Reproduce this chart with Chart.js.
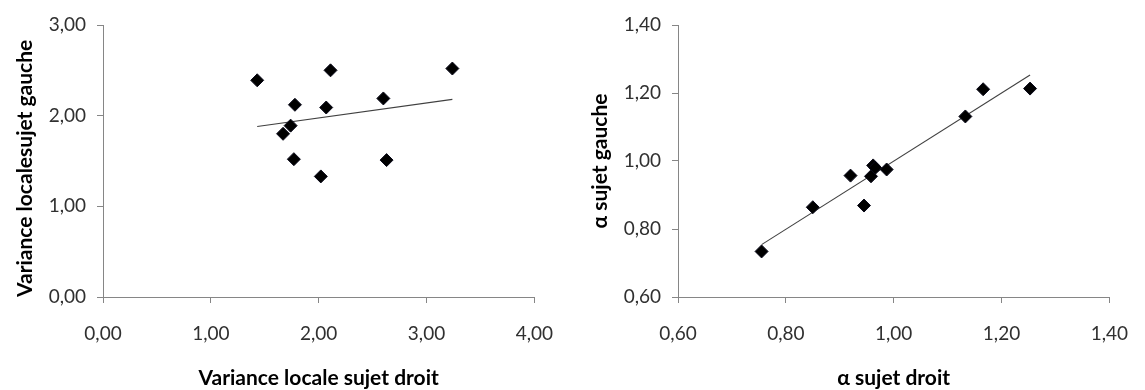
<!DOCTYPE html>
<html>
<head>
<meta charset="utf-8">
<script src="https://cdn.jsdelivr.net/npm/chart.js@4"></script>
<style>
  html, body { margin: 0; padding: 0; background: #fff; width: 1145px; height: 390px; overflow: hidden; }
  canvas { position: absolute; top: 0; }
  #c1 { left: 0px; }
  #c2 { left: 575px; }
</style>
</head>
<body>
<canvas id="c1" width="572" height="390"></canvas>
<canvas id="c2" width="572" height="390"></canvas>
<script>
// ---- Data ----
const leftX = [1.43, 2.11, 3.24, 1.78, 2.07, 2.60, 1.74, 1.67, 1.77, 2.63, 2.02];
const leftY = [2.39, 2.50, 2.52, 2.12, 2.09, 2.19, 1.89, 1.80, 1.52, 1.51, 1.33];
const leftTrendX = [1.43, 3.24];
const leftTrendY = [1.88, 2.18];

const rightX = [0.755, 0.850, 0.920, 0.945, 0.958, 0.962, 0.966, 0.987, 1.133, 1.166, 1.253];
const rightY = [0.734, 0.864, 0.957, 0.869, 0.955, 0.987, 0.980, 0.975, 1.131, 1.211, 1.213];
const rightTrendX = [0.755, 1.253];
const rightTrendY = [0.754, 1.253];

const leftXTicks = ['0,00', '1,00', '2,00', '3,00', '4,00'];
const leftYTicks = ['0,00', '1,00', '2,00', '3,00'];
const rightXTicks = ['0,60', '0,80', '1,00', '1,20', '1,40'];
const rightYTicks = ['0,60', '0,80', '1,00', '1,20', '1,40'];

const leftXTitle = 'Variance locale sujet droit';
const leftYTitle = 'Variance localesujet gauche';
const rightXTitle = 'α sujet droit';
const rightYTitle = 'α sujet gauche';

// ---- Styling ----
const AXIS = '#868686';
const TICKFONT = { family: 'Lato, "Open Sans", sans-serif', size: 19 };
const TITLEFONT = { family: 'Lato, "Open Sans", sans-serif', size: 21, weight: 'bold', lineHeight: 1.0 };

function pts(xs, ys) { return xs.map((x, i) => ({ x: x, y: ys[i] })); }

function makeChart(id, xs, ys, tx, ty, xr, yr, xTicks, yTicks, xTitle, yTitle, yTitleAlign) {
  new Chart(document.getElementById(id), {
    type: 'scatter',
    data: {
      datasets: [
        {
          data: pts(xs, ys),
          pointStyle: 'rectRot',
          pointRadius: 6.5,
          pointBackgroundColor: '#000',
          pointBorderColor: '#0a0a1a',
          pointBorderWidth: 1,
          showLine: false,
          order: 1
        },
        {
          type: 'line',
          data: pts(tx, ty),
          borderColor: '#404040',
          borderWidth: 1.1,
          pointRadius: 0,
          fill: false,
          order: 2
        }
      ]
    },
    options: {
      responsive: false,
      animation: false,
      events: [],
      layout: { padding: { top: 25, right: 19, left: 0, bottom: 0 } },
      plugins: { legend: { display: false }, tooltip: { enabled: false } },
      scales: {
        x: {
          type: 'linear',
          min: xr[0], max: xr[1],
          ticks: {
            stepSize: xr[2],
            color: '#303030',
            font: TICKFONT,
            padding: 19,
            maxRotation: 0,
            callback: (v, i) => xTicks[i]
          },
          grid: { display: true, drawOnChartArea: false, drawTicks: true, tickLength: 6, color: AXIS, lineWidth: 1 },
          border: { display: true, color: AXIS, width: 1 },
          title: { display: true, text: xTitle, color: '#000', font: TITLEFONT, padding: { top: 0, bottom: 1 } },
          afterFit: (s) => { s.height = 93; }
        },
        y: {
          type: 'linear',
          min: yr[0], max: yr[1],
          ticks: {
            stepSize: yr[2],
            color: '#303030',
            font: TICKFONT,
            padding: 11,
            callback: (v, i) => yTicks[i]
          },
          grid: { display: true, drawOnChartArea: false, drawTicks: true, tickLength: 6, color: AXIS, lineWidth: 1 },
          border: { display: true, color: AXIS, width: 1 },
          title: { display: true, text: yTitle, align: yTitleAlign, color: '#000', font: TITLEFONT, padding: { top: 15, bottom: 0 } },
          afterFit: (s) => { s.width = 103; }
        }
      }
    }
  });
}

makeChart('c1', leftX, leftY, leftTrendX, leftTrendY, [0, 4, 1], [0, 3, 1],
  leftXTicks, leftYTicks, leftXTitle, leftYTitle, 'start');
makeChart('c2', rightX, rightY, rightTrendX, rightTrendY, [0.6, 1.4, 0.2], [0.6, 1.4, 0.2],
  rightXTicks, rightYTicks, rightXTitle, rightYTitle, 'center');
</script>
</body>
</html>
